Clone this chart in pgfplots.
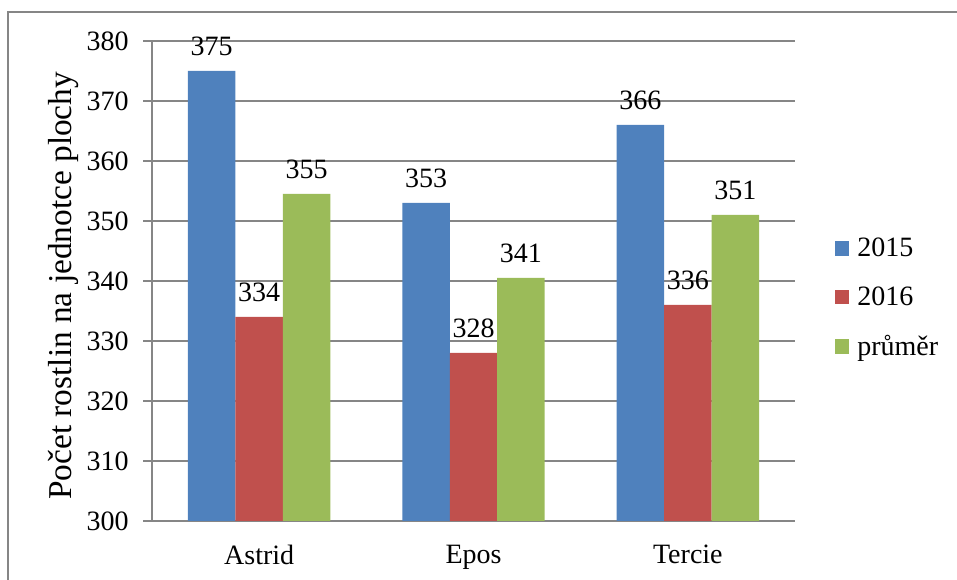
\documentclass[border=0pt]{standalone}
\usepackage{fontspec}
\setmainfont{Liberation Serif}
\usepackage{pgfplots}
\pgfplotsset{compat=1.18}

\definecolor{cBlue}{HTML}{4F81BD}
\definecolor{cRed}{HTML}{C0504D}
\definecolor{cGreen}{HTML}{9BBB59}
\definecolor{cGrid}{HTML}{868686}

\newcommand{\chartfont}{\fontsize{21}{25}\selectfont}

\begin{document}
\begin{tikzpicture}
\useasboundingbox (0pt,0pt) rectangle (717.75pt,435pt);
% outer chart frame (top and left edges)
\draw[cGrid, line width=1.5pt] (6pt,0pt) -- (6pt,426pt) -- (717.75pt,426pt);
\begin{axis}[
  at={(114pt,44.25pt)}, anchor=south west,
  scale only axis,
  width=482.25pt, height=360pt,
  font=\chartfont,
  /pgf/number format/assume math mode=true,
  ybar=0pt, bar width=35.6pt,
  xmin=-0.5, xmax=2.5,
  ymin=300, ymax=380, ytick={300,310,...,380},
  xtick={0,1,2}, xticklabels={Astrid,Epos,Tercie},
  major x tick style={draw=none},
  extra x ticks={-0.5,0.5,1.5,2.5}, extra x tick labels={},
  extra x tick style={major tick length=6.5pt, tick style={cGrid, line width=1.2pt}, grid=none},
  axis x line*=bottom, axis y line*=left,
  axis line style={cGrid, line width=1.2pt, -},
  tick align=outside, major tick length=6.5pt,
  tick style={cGrid, line width=1.2pt},
  ymajorgrids, grid style={cGrid, line width=1.2pt},
  xticklabel style={yshift=-8pt},
  yticklabel style={xshift=-7.5pt},
  ylabel={Počet rostlin na jednotce plochy},
  ylabel style={at={(rel axis cs:-0.138,0.49)}, anchor=center, font=\fontsize{25}{30}\selectfont},
  nodes near coords,
  nodes near coords style={/pgf/number format/.cd, fixed, precision=0, /tikz/.cd, font=\chartfont, black, yshift=8pt},
  every node near coord/.append style={anchor=south},
  clip=false,
  legend style={draw=none, fill=none, at={(rel axis cs:1.055,0.465)}, anchor=west,
    font=\chartfont, row sep=17pt, /tikz/every odd column/.append style={column sep=4pt}},
  legend cell align=left,
  legend image code/.code={\fill[#1] (0pt,-5.5pt) rectangle (11pt,5.5pt);},
]
\addplot[fill=cBlue, draw=none] coordinates {(0,375) (1,353) (2,366)};
\addplot[fill=cRed, draw=none] coordinates {(0,334) (1,328) (2,336)};
\addplot[fill=cGreen, draw=none] coordinates {(0,354.5) (1,340.5) (2,351)};
\legend{2015,2016,průměr}
\end{axis}
\end{tikzpicture}
\end{document}
